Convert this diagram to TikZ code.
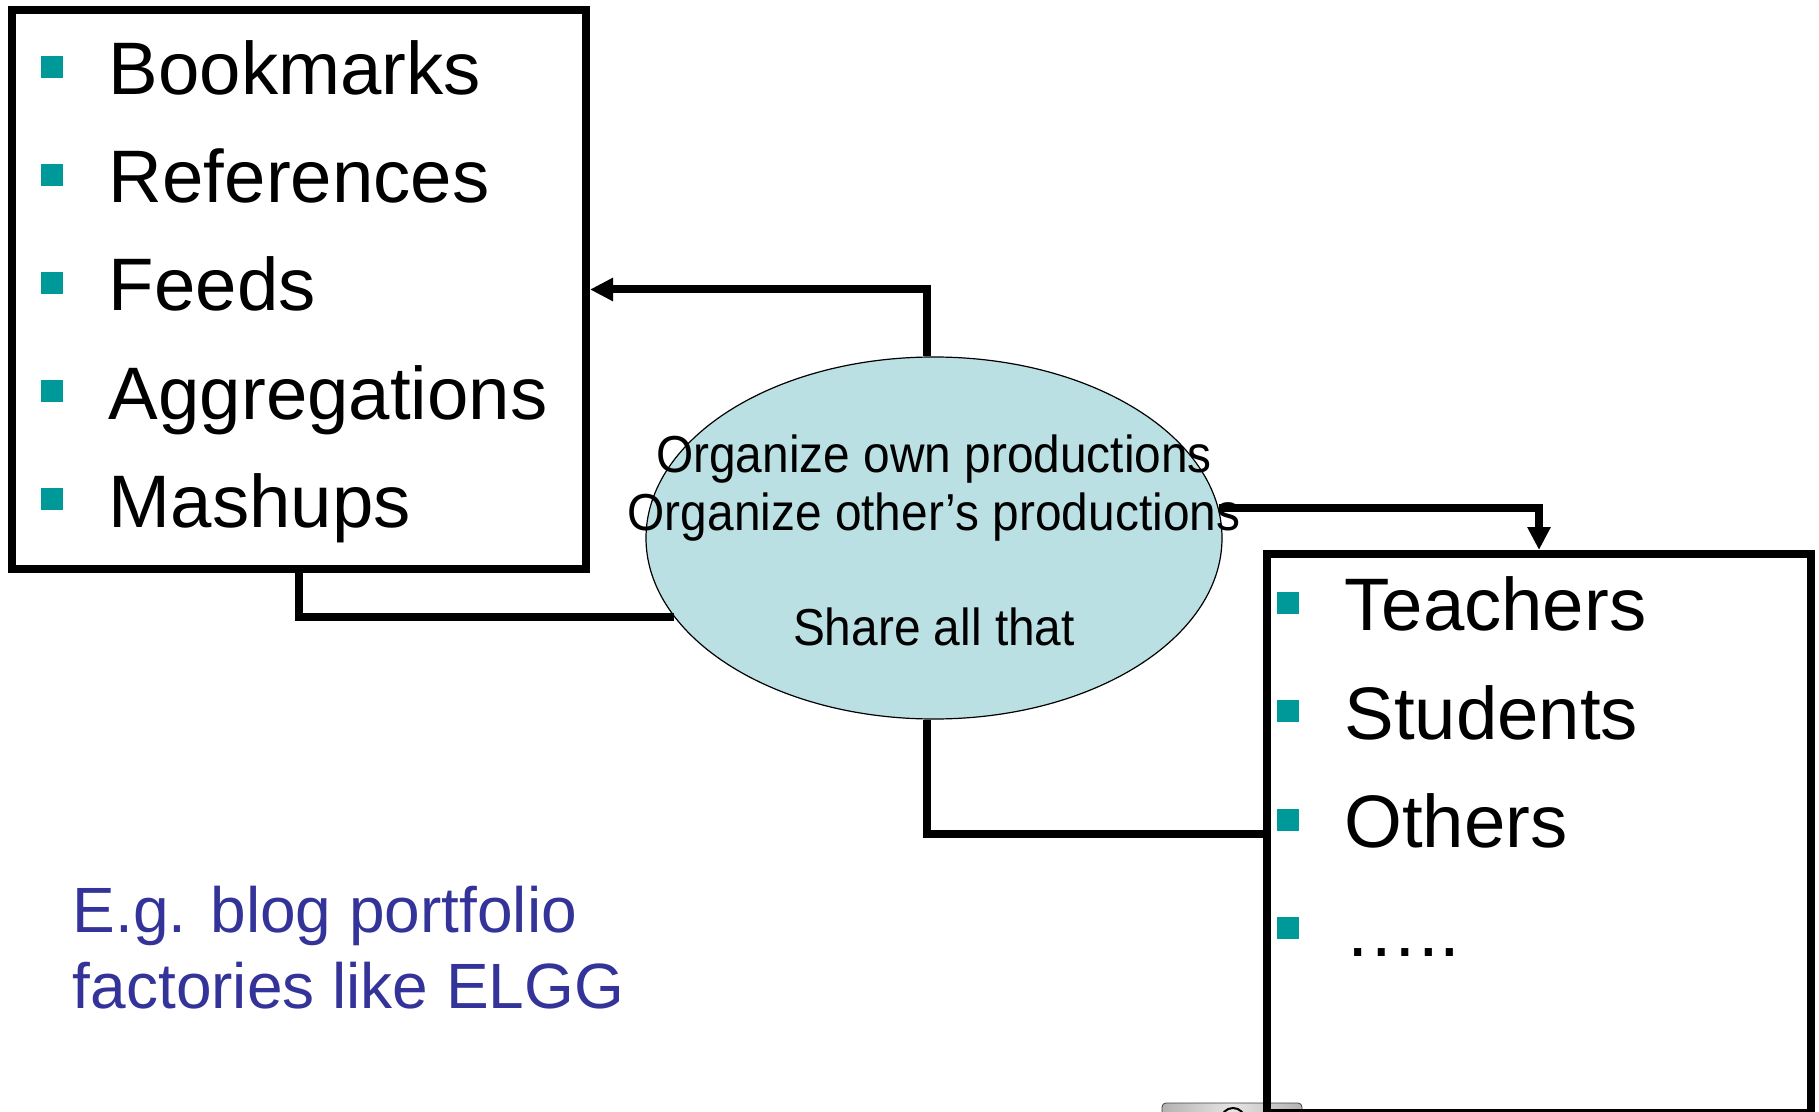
\documentclass[tikz,border=0pt]{standalone}
\usepackage{fontspec}
\setmainfont{Liberation Sans}
\newfontfamily\ellfont[FakeStretch=0.92]{Liberation Sans}
\usepackage{xcolor}
\usepackage{tikz}
\usetikzlibrary{arrows.meta,shapes.geometric}

\definecolor{bulletteal}{RGB}{0,153,153}
\definecolor{ellfill}{RGB}{187,224,227}
\definecolor{noteblue}{RGB}{51,51,153}

\begin{document}
\begin{tikzpicture}[
    x=0.5pt, y=-0.5pt,
    every node/.style={inner sep=0pt},
    listbox/.style={draw,line width=4pt},
    bullet/.style={fill=bulletteal,minimum size=11pt},
    item/.style={anchor=base west,font=\fontsize{37.2}{44}\selectfont},
    share/.style={ellipse,draw,line width=0.6pt,fill=ellfill,minimum width=288pt,minimum height=181pt},
    elltext/.style={anchor=base,font=\ellfont\fontsize{26}{29}\selectfont},
    note/.style={anchor=base west,text=noteblue,font=\fontsize{32}{38}\selectfont},
    link/.style={line width=4pt},
    tip/.style={-{Triangle[length=11.5pt,width=11pt]}},
]
\useasboundingbox (0,0) rectangle (1819,1112);
% Projector icon at the bottom edge
\shade[left color=black!30,right color=black!30,middle color=black!10,draw=black!75,rounded corners=2pt]
    (1162,1103) rectangle (1302,1130);
\draw[line width=1pt] (1233,1120) circle[radius=6pt];
% Boxes
\node[listbox,minimum width=287pt,minimum height=279.5pt] (lbox) at (299,289.5) {};
\node[listbox,minimum width=272pt,minimum height=279.5pt] (rbox) at (1539,833.5) {};
% Left list
\foreach \name [count=\i from 0] in {Bookmarks,References,Feeds,Aggregations,Mashups} {
    \node[bullet] (lb\i) at (52,{67+108*\i}) {};
    \node[item] (li\i) at (108.5,{95+108*\i}) {\name};
}
% Right list
\foreach \name [count=\i from 0] in {Teachers,Students,Others,…..} {
    \node[bullet] (rb\i) at (1288,{602.5+108.5*\i}) {};
    \node[item] (ri\i) at (1344,{630.5+108.5*\i}) {\name};
}
% Ellipse
\node[share] (ell) at (934,538) {};
% Connectors
\draw[link,tip] ([xshift=-3.5pt]ell.north) |- (lbox.east);
\draw[link,tip] (ell.6.44) -| (rbox.north);
\draw[link] (lbox.south) |- (ell.197.6);
\draw[link] ([xshift=-3.5pt]ell.south) |- (rbox.west);
% Ellipse text
\node[elltext] (own) at ([yshift=32.8pt]ell.center) {Organize own productions};
\node[elltext] (other) at ([yshift=3.8pt]ell.center) {Organize other’s productions};
\node[elltext] (all) at ([yshift=-53.7pt]ell.center) {Share all that};
% Note
\node[note] (eg) at (72.5,932) {E.g. blog portfolio};
\node[note] (elgg) at (72.5,1008) {factories like ELGG};
\end{tikzpicture}
\end{document}
